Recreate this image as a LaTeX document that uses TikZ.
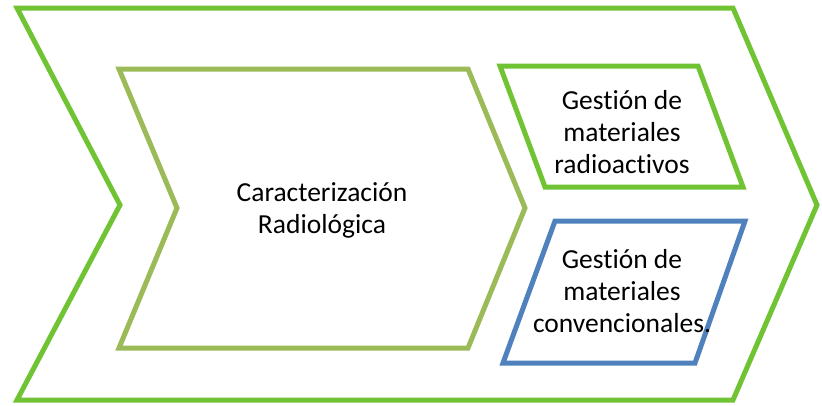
\documentclass[tikz,border=0pt]{standalone}
\usepackage{fontspec}
\setmainfont{Carlito}[Ligatures={NoCommon}]
\usepackage{tikz}
\usetikzlibrary{positioning}

\definecolor{outergreen}{RGB}{112,196,52}
\definecolor{olivegreen}{RGB}{155,187,89}
\definecolor{boxblue}{RGB}{79,129,189}

\tikzset{
	chevline/.style={line width=5pt, line join=miter},
	steptext/.style={align=center, anchor=base, font=\fontsize{27.5}{32}\selectfont, inner sep=0pt}
}

\begin{document}
\begin{tikzpicture}[x=1pt, y=-1pt]
		\useasboundingbox (0,0) rectangle (822,405);
		
		\draw[chevline, color=outergreen] (17,8) -- (733,8) -- (817,205) -- (733,400) -- (17,400) -- (120,205) -- cycle;
		
		\draw[chevline, color=olivegreen] (119,69) -- (468,69) -- (525,208) -- (468,348) -- (119,348) -- (177,208) -- cycle;
		
		\draw[chevline, color=outergreen] (500,66) -- (698,66) -- (743,187) -- (545,187) -- cycle;
		
		\draw[chevline, color=boxblue] (555,221) -- (745,221) -- (695,363) -- (503,363) -- cycle;
		
		% base anchor sits on the last line
		\node[steptext] (caract) at (322,233) {Caracterización\\Radiológica};
		\node[steptext] (radio) at (622,173) {Gestión de\\materiales\\radioactivos};
		\node[steptext] (conv) at (622,332) {Gestión de\\materiales\\convencionales.};
		
\end{tikzpicture}
\end{document}
